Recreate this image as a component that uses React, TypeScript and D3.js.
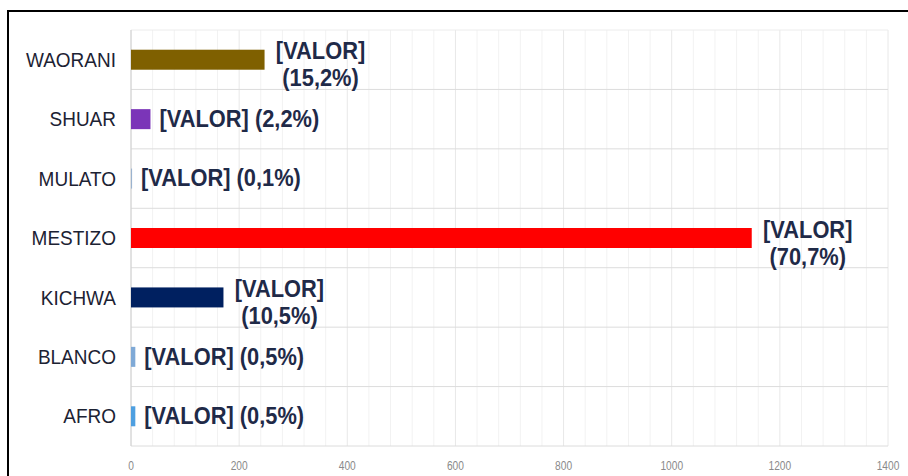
import React from "react";
import * as d3 from "d3";

// Population by self-identified ethnicity
const categories = ["WAORANI", "SHUAR", "MULATO", "MESTIZO", "KICHWA", "BLANCO", "AFRO"];
const values = [247, 36, 2, 1148, 171, 8, 8];
const percents = ["15,2%", "2,2%", "0,1%", "70,7%", "10,5%", "0,5%", "0,5%"];
const barColors = ["#7F6000", "#7B35B8", "#9BB3CF", "#FF0000", "#002060", "#7FA9D6", "#4E9FE0"];
const xTicks = [0, 200, 400, 600, 800, 1000, 1200, 1400];

const W = 908;
const H = 476;
const plot = { left: 131, right: 888, top: 30, bottom: 446 };
const labelFont = "'Liberation Sans', Arial, sans-serif";

// Text drawn with a slight horizontal squeeze (narrow typeface look)
function NarrowText(props: {
  x: number;
  y: number;
  sx: number;
  anchor: "start" | "middle" | "end";
  size: number;
  weight?: number;
  fill: string;
  children: React.ReactNode;
}) {
  const { x, y, sx, anchor, size, weight, fill, children } = props;
  return (
    <g transform={`translate(${x},${y}) scale(${sx},1)`}>
      <text
        x={0}
        y={0}
        textAnchor={anchor}
        dominantBaseline="central"
        fontFamily={labelFont}
        fontSize={size}
        fontWeight={weight ?? 400}
        fill={fill}
      >
        {children}
      </text>
    </g>
  );
}

export default function App() {
  const x = d3.scaleLinear().domain([0, 1400]).range([plot.left, plot.right]);
  const y = d3
    .scaleBand<string>()
    .domain(categories)
    .range([plot.top, plot.bottom])
    .paddingInner(0)
    .paddingOuter(0);
  const barH = 20;
  const minorTicks = d3.range(0, 1401, 40);

  return (
    <svg
      width={W}
      height={H}
      style={{ position: "absolute", left: 0, top: 0, background: "#fff" }}
    >
      <rect x={0} y={0} width={W} height={H} fill="#fff" />
      {/* outer frame */}
      <line x1={7} y1={11} x2={W} y2={11} stroke="#000" strokeWidth={2} />
      <line x1={8} y1={10} x2={8} y2={H} stroke="#000" strokeWidth={2} />

      {/* minor vertical gridlines */}
      {minorTicks.map((t) => (
        <line
          key={"g" + t}
          x1={x(t)}
          x2={x(t)}
          y1={plot.top}
          y2={plot.bottom}
          stroke={t % 200 === 0 ? "#e8e8e8" : "#f2f2f2"}
          strokeWidth={1}
        />
      ))}
      {/* horizontal separators between categories */}
      {categories.map((c) => (
        <line
          key={"h" + c}
          x1={plot.left}
          x2={plot.right}
          y1={(y(c) as number) + y.bandwidth()}
          y2={(y(c) as number) + y.bandwidth()}
          stroke="#dcdcdc"
          strokeWidth={1}
        />
      ))}
      <line x1={plot.left} x2={plot.right} y1={plot.top} y2={plot.top} stroke="#ececec" />
      <line x1={plot.left} x2={plot.left} y1={plot.top} y2={plot.bottom} stroke="#d0d0d0" />

      {/* bars */}
      {categories.map((c, i) => {
        const cy = (y(c) as number) + y.bandwidth() / 2;
        return (
          <rect
            key={"b" + c}
            x={x(0)}
            y={cy - barH / 2}
            width={Math.max(1, x(values[i]) - x(0))}
            height={barH}
            fill={barColors[i]}
          />
        );
      })}

      {/* category labels */}
      {categories.map((c) => {
        const cy = (y(c) as number) + y.bandwidth() / 2;
        return (
          <NarrowText key={"c" + c} x={116} y={cy} sx={0.95} anchor="end" size={20} fill="#1c2233">
            {c}
          </NarrowText>
        );
      })}

      {/* value labels */}
      {categories.map((c, i) => {
        const cy = (y(c) as number) + y.bandwidth() / 2;
        const endX = x(values[i]) + 9;
        if (values[i] > 100) {
          const cx = endX + 47;
          return (
            <g key={"v" + c}>
              <NarrowText x={cx} y={cy - 8} sx={0.95} anchor="middle" size={23} weight={700} fill="#1f2a48">
                [VALOR]
              </NarrowText>
              <NarrowText x={cx} y={cy + 19} sx={0.95} anchor="middle" size={23} weight={700} fill="#1f2a48">
                ({percents[i]})
              </NarrowText>
            </g>
          );
        }
        return (
          <NarrowText key={"v" + c} x={endX} y={cy} sx={0.95} anchor="start" size={23} weight={700} fill="#1f2a48">
            [VALOR] ({percents[i]})
          </NarrowText>
        );
      })}

      {/* x axis tick labels */}
      {xTicks.map((t) => (
        <NarrowText key={"t" + t} x={x(t)} y={466} sx={0.85} anchor="middle" size={12} fill="#8a8a8a">
          {t}
        </NarrowText>
      ))}
    </svg>
  );
}
